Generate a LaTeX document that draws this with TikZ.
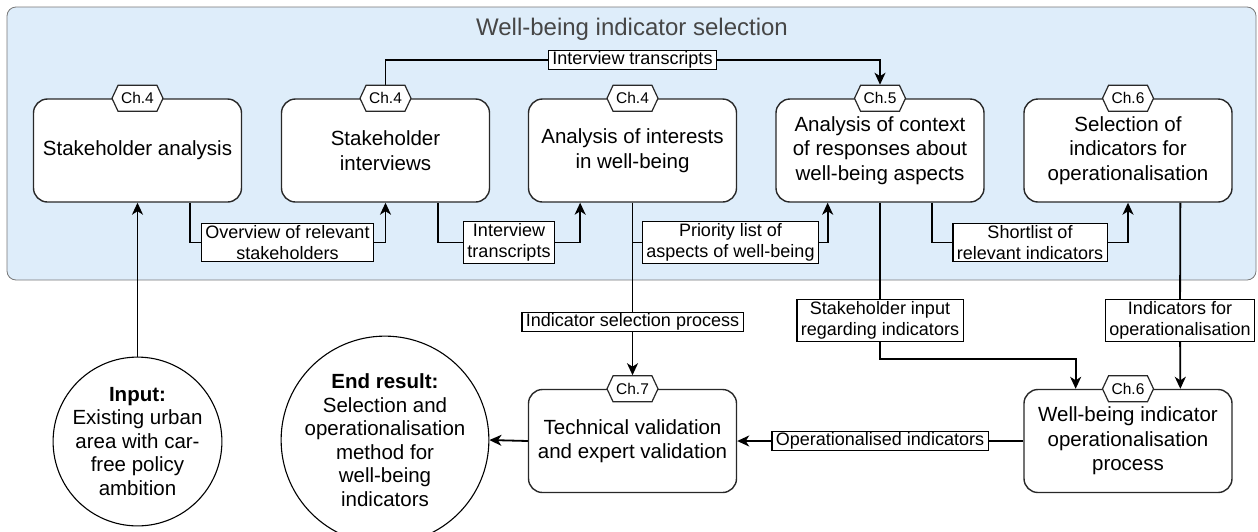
\documentclass[tikz,border=0pt]{standalone}
\usepackage{fontspec}
\setmainfont{Liberation Sans}
\usetikzlibrary{shapes.symbols,arrows.meta,calc}
\definecolor{contfill}{RGB}{222,237,250}
\definecolor{contline}{RGB}{120,120,120}
\definecolor{boxline}{RGB}{40,40,40}
\definecolor{titlecol}{RGB}{70,70,70}
\pgfdeclarelayer{bg}
\pgfdeclarelayer{edges}
\pgfsetlayers{bg,edges,main}
\begin{document}
\begin{tikzpicture}[x=1pt,y=-1pt,
  container/.style={draw=contline, fill=contfill, line width=0.8pt, rounded corners=9pt, minimum width=1249pt, minimum height=273pt, inner sep=0pt},
  procbox/.style={draw=boxline, line width=1.4pt, fill=white, rounded corners=14pt, minimum width=208pt, minimum height=103pt, align=center, font=\fontsize{20.5}{24.5}\selectfont, inner sep=2pt},
  chtag/.style={signal, signal to=east and west, signal pointer angle=130, draw=boxline, line width=1.2pt, fill=white, minimum width=51pt, minimum height=26pt, inner sep=1pt, font=\fontsize{15.5}{18}\selectfont},
  lbl/.style={draw=black, line width=1.1pt, fill=white, align=center, inner xsep=4pt, inner ysep=1.5pt, font=\fontsize{18}{21.6}\selectfont},
  endpt/.style={circle, draw=black, line width=1.1pt, fill=white, align=center, font=\fontsize{20.5}{23.5}\selectfont, inner sep=0pt},
  conn/.style={line width=1.8pt, draw=black},
  arr/.style={conn, -{Stealth[length=12pt,width=11pt,inset=3.5pt]}},
]
\useasboundingbox (0,0) rectangle (1258,531);
\clip (0,0) rectangle (1258,531);
\begin{pgfonlayer}{bg}
\node[container] (cont) at (631.5,143.5) {};
\end{pgfonlayer}
\node[font=\fontsize{24}{28}\selectfont, text=titlecol] (title) at (632,29) {Well-being indicator selection};

\node[procbox] (b1) at (137.5,150.5) {Stakeholder analysis};
\node[procbox] (b2) at (385.5,150.5) {Stakeholder\\interviews};
\node[procbox] (b3) at (632.5,150.5) {Analysis of interests\\in well-being};
\node[procbox] (b4) at (880,150.5) {Analysis of context\\of responses about\\well-being aspects};
\node[procbox] (b5) at (1128,150.5) {Selection of\\indicators for\\operationalisation};
\node[procbox] (b6) at (632.5,441) {Technical validation\\and expert validation};
\node[procbox] (b7) at (1128,441) {Well-being indicator\\operationalisation\\process};

\node[chtag] (h1) at (b1.north) {Ch.4};
\node[chtag] (h2) at (b2.north) {Ch.4};
\node[chtag] (h3) at (b3.north) {Ch.4};
\node[chtag] (h4) at (b4.north) {Ch.5};
\node[chtag] (h5) at (b5.north) {Ch.6};
\node[chtag] (h6) at (b6.north) {Ch.7};
\node[chtag] (h7) at (b7.north) {Ch.6};

\node[lbl] (LT) at (632.5,60) {Interview transcripts};
\node[lbl] (L1) at (287.5,242.5) {Overview of relevant\\stakeholders};
\node[lbl] (L2) at (509,242.5) {Interview\\transcripts};
\node[lbl] (L3) at (730.5,242.5) {Priority list of\\aspects of well-being};
\node[lbl] (L4) at (1030,242.5) {Shortlist of\\relevant indicators};
\node[lbl] (L5) at (632.5,322) {Indicator selection process};
\node[lbl] (L6) at (880,320.5) {Stakeholder input\\regarding indicators};
\node[lbl] (L7) at (1180,320.5) {Indicators for\\operationalisation};
\node[lbl] (L8) at (880,441) {Operationalised indicators};

\node[endpt, minimum size=163pt] (in) at (137.5,441.5) {\textbf{Input:}\\Existing urban\\area with car-\\free policy\\ambition};
\node[endpt, minimum size=190pt] (out) at (385,440) {\textbf{End result:}\\Selection and\\operationalisation\\method for\\well-being\\indicators};

\coordinate (b1s) at ($(b1.south west)!0.75!(b1.south east)$);
\coordinate (b2s) at ($(b2.south west)!0.75!(b2.south east)$);
\coordinate (b3w) at ($(b3.south west)!0.25!(b3.south east)$);
\coordinate (b4w) at ($(b4.south west)!0.25!(b4.south east)$);
\coordinate (b4s) at ($(b4.south west)!0.75!(b4.south east)$);
\coordinate (b5s) at ($(b5.south west)!0.75!(b5.south east)$);
\coordinate (b7w) at ($(b7.north west)!0.25!(b7.north east)$);
\coordinate (b7e) at ($(b7.north west)!0.75!(b7.north east)$);
\coordinate (y359) at (0,359);
\coordinate (k7) at (b7w |- y359);

\begin{pgfonlayer}{edges}
\draw[arr] (b1s) |- (L1.center) -| (b2.south);
\draw[arr] (b2s) |- (L2.center) -| (b3w);
\draw[arr] (b3.south) |- (L3.center) -| (b4w);
\draw[arr] (b4s) |- (L4.center) -| (b5.south);
\draw[arr] (h2.north) |- (LT.center) -| (h4.north);
\draw[arr] (b3.south) -- (L5.center) -- (h6.north);
\draw[arr] (b4.south) -- (L6.center) |- (k7) -- (b7w);
\draw[arr] (b5s) -- (L7.center) -- (b7e);
\draw[arr] (b7.west) -- (L8.center) -- (b6.east);
\draw[arr] (b6.west) -- (out.east);
\draw[arr] (in.north) -- (b1.south);
\end{pgfonlayer}
\end{tikzpicture}
\end{document}
